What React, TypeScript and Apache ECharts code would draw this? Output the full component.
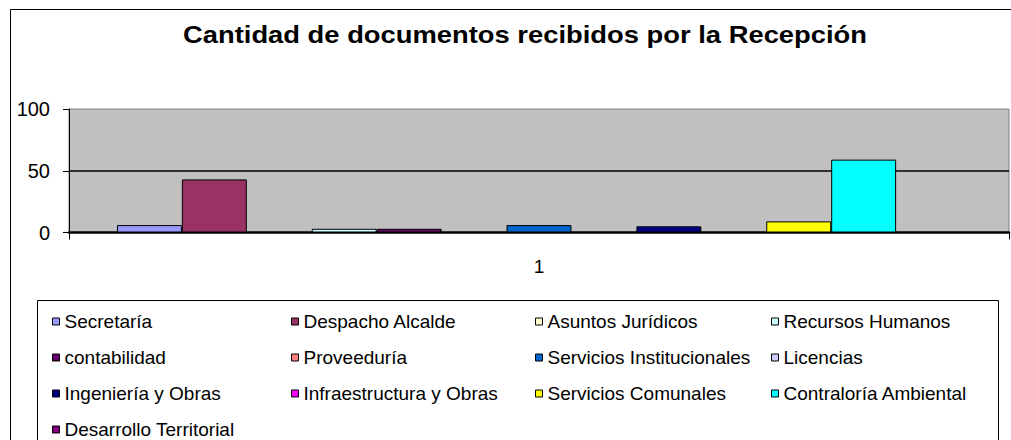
import React, { useEffect, useRef } from "react";
import * as echarts from "echarts";

const title = "Cantidad de documentos recibidos por la Recepción";
const categories = ["1"];
const seriesNames = [
  "Secretaría",
  "Despacho Alcalde",
  "Asuntos Jurídicos",
  "Recursos Humanos",
  "contabilidad",
  "Proveeduría",
  "Servicios Institucionales",
  "Licencias",
  "Ingeniería y Obras",
  "Infraestructura y Obras",
  "Servicios Comunales",
  "Contraloría Ambiental",
  "Desarrollo Territorial",
];
const seriesValues = [6, 43, 0, 3, 3, 0, 6, 0, 5, 0, 9, 59, 0];
const yMin = 0;
const yMax = 100;
const yStep = 50;

const palette = [
  "#9999FF", "#993366", "#FFFFCC", "#CCFFFF", "#660066", "#FF8080", "#0066CC",
  "#CCCCFF", "#000080", "#FF00FF", "#FFFF00", "#00FFFF", "#800080",
];

const FONT = "'Liberation Sans', Arial, sans-serif";

export default function App() {
  const ref = useRef<HTMLDivElement>(null);
  useEffect(() => {
    if (!ref.current) return;
    const chart = echarts.init(ref.current, null, { renderer: "svg" });
    const colLefts = [52, 291, 535, 771];
    const legends = colLefts.map((left, c) => ({
      type: "plain",
      orient: "vertical",
      left,
      top: 312,
      padding: 0,
      itemWidth: 7,
      itemHeight: 7,
      itemGap: 17,
      icon: "rect",
      selectedMode: false,
      itemStyle: { borderColor: "#000", borderWidth: 1 },
      textStyle: { fontFamily: FONT, fontSize: 19, color: "#000", lineHeight: 18 },
      data: seriesNames.filter((_, i) => i % 4 === c),
    }));
    chart.setOption({
      animation: false,
      backgroundColor: "#fff",
      textStyle: { fontFamily: FONT },
      graphic: [
        {
          type: "rect",
          shape: { x: 10.5, y: 9.5, width: 1200, height: 1000 },
          style: { fill: "none", stroke: "#000", lineWidth: 1 },
          z: -1,
        },
        {
          type: "rect",
          shape: { x: 37.5, y: 300.5, width: 961, height: 300 },
          style: { fill: "none", stroke: "#000", lineWidth: 1 },
        },
        {
          type: "text",
          x: 525,
          y: 35,
          scaleX: 1.19,
          style: {
            text: title,
            fontFamily: FONT,
            fontWeight: "bold",
            fontSize: 23,
            fill: "#000",
            textAlign: "center",
            textVerticalAlign: "middle",
          },
        },
      ],
      legend: legends,
      grid: {
        left: 69,
        right: 2,
        top: 109,
        bottom: 207.5,
        show: true,
        backgroundColor: "#C0C0C0",
        borderColor: "#808080",
        borderWidth: 1,
        outerBoundsMode: "none",
      },
      xAxis: {
        type: "category",
        data: categories,
        axisLine: { show: true, lineStyle: { color: "#000", width: 2.5 } },
        axisTick: { show: true, length: 7, lineStyle: { color: "#000" } },
        axisLabel: { fontFamily: FONT, fontSize: 19, color: "#000", margin: 24 },
      },
      yAxis: {
        type: "value",
        min: yMin,
        max: yMax,
        interval: yStep,
        axisLine: { show: true, lineStyle: { color: "#000", width: 1 } },
        axisTick: { show: true, length: 6, lineStyle: { color: "#000" } },
        axisLabel: { fontFamily: FONT, fontSize: 20, color: "#000", margin: 19 },
        splitLine: { show: true, showMinLine: false, showMaxLine: false, lineStyle: { color: "#000", width: 1.5 } },
      },
      series: seriesNames.map((name, i) => ({
        name,
        type: "bar",
        data: [seriesValues[i]],
        barGap: "0%",
        barCategoryGap: "10.2%",
        itemStyle: { color: palette[i], borderColor: "#000", borderWidth: 1 },
      })),
    });
    return () => chart.dispose();
  }, []);
  return (
    <div
      ref={ref}
      style={{ position: "absolute", left: 0, top: 0, width: 1011, height: 440 }}
    />
  );
}
